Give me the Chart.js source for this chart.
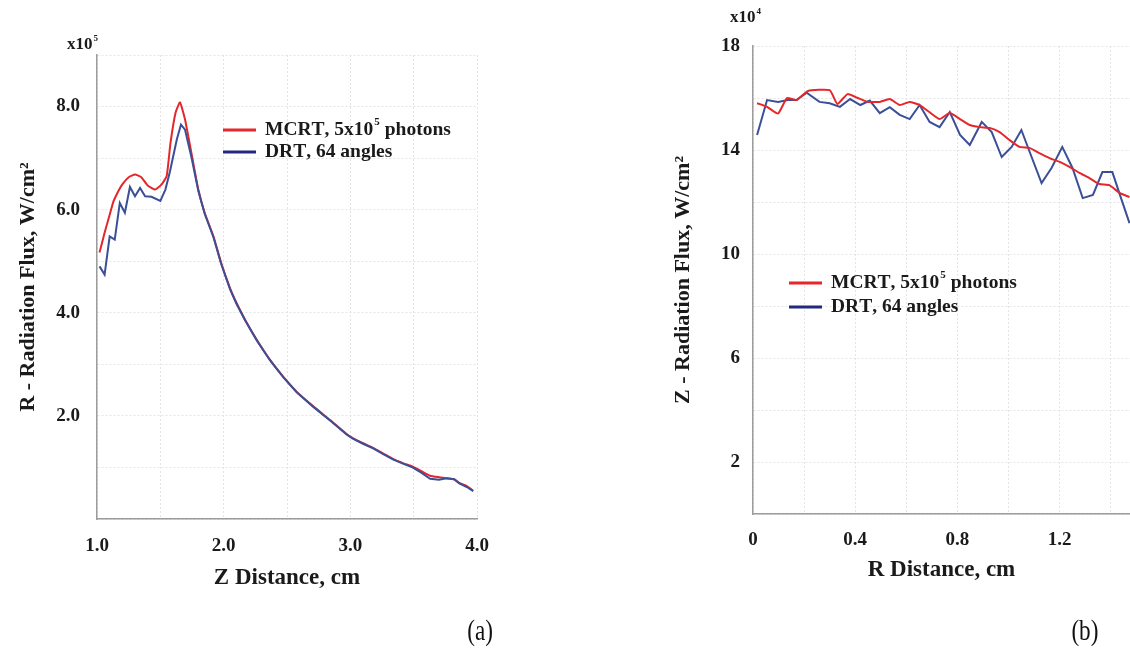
<!DOCTYPE html>
<html>
<head>
<meta charset="utf-8">
<script src="https://cdn.jsdelivr.net/npm/chart.js@4.4.1/dist/chart.umd.min.js"></script>
<style>
  html, body { margin: 0; padding: 0; background: #fff; }
  #wrap { position: relative; width: 1130px; height: 658px; overflow: hidden; }
  .box { position: absolute; top: 0; width: 565px; height: 658px; }
  .tag { position: absolute; top: 614px; font-family: "Liberation Serif", serif; font-size: 29px; color: #111; transform: scaleX(0.8); }
</style>
</head>
<body>
<div id="wrap">
  <div class="box" style="left:0"><canvas id="chartA" width="565" height="658"></canvas></div>
  <div class="box" style="left:565px"><canvas id="chartB" width="565" height="658"></canvas></div>
  <div class="tag" style="left:464px">(a)</div>
  <div class="tag" style="left:1068px">(b)</div>
</div>
<script>
// (a) R - radiation flux vs Z distance (x10^5 W/cm2)
var mcrtZ = [1.02, 1.06, 1.10, 1.13, 1.16, 1.20, 1.25, 1.30, 1.35, 1.40, 1.46, 1.51, 1.55, 1.58, 1.62, 1.655, 1.695, 1.75, 1.80,
  1.85, 1.92, 1.98, 2.05, 2.10, 2.17, 2.26, 2.365, 2.47, 2.576, 2.71, 2.84, 2.97, 3.02, 3.10, 3.18, 3.26, 3.34, 3.42, 3.49,
  3.56, 3.63, 3.70, 3.76, 3.82, 3.86, 3.92, 3.97];
var mcrtFlux = [5.17, 5.55, 5.9, 6.16, 6.32, 6.49, 6.63, 6.68, 6.63, 6.47, 6.39, 6.49, 6.65, 7.29, 7.88, 8.08, 7.75, 7.04, 6.39,
  5.94, 5.48, 4.97, 4.48, 4.2, 3.86, 3.48, 3.09, 2.76, 2.47, 2.18, 1.92, 1.65, 1.57, 1.47, 1.38, 1.27, 1.16, 1.08, 1.02,
  0.93, 0.84, 0.81, 0.79, 0.77, 0.70, 0.64, 0.55];
var drtZ = [1.02, 1.06, 1.10, 1.14, 1.18, 1.22, 1.26, 1.30, 1.34, 1.38, 1.43, 1.50, 1.54, 1.576, 1.63, 1.663, 1.695, 1.747, 1.80,
  1.85, 1.92, 1.98, 2.05, 2.10, 2.17, 2.26, 2.365, 2.47, 2.576, 2.71, 2.84, 2.97, 3.02, 3.10, 3.18, 3.26, 3.34, 3.42, 3.49,
  3.56, 3.63, 3.70, 3.76, 3.82, 3.86, 3.92, 3.97];
var drtFlux = [4.9, 4.74, 5.48, 5.42, 6.13, 5.94, 6.44, 6.26, 6.42, 6.26, 6.25, 6.17, 6.39, 6.74, 7.36, 7.65, 7.55, 7.0, 6.36,
  5.92, 5.46, 4.95, 4.46, 4.18, 3.85, 3.47, 3.08, 2.75, 2.46, 2.17, 1.91, 1.64, 1.56, 1.46, 1.37, 1.26, 1.15, 1.07, 1.0,
  0.9, 0.78, 0.76, 0.79, 0.77, 0.69, 0.62, 0.54];

// (b) Z - radiation flux vs R distance (x10^4 W/cm2)
var mcrtR = [0.016, 0.055, 0.098, 0.133, 0.17, 0.215, 0.30, 0.33, 0.37, 0.41, 0.45, 0.496, 0.535, 0.574, 0.613, 0.652, 0.69,
  0.73, 0.77, 0.81, 0.848, 0.887, 0.926, 0.965, 1.004, 1.043, 1.082, 1.12, 1.16, 1.2, 1.238, 1.277, 1.316, 1.355, 1.394,
  1.434, 1.473];
var mcrtFluxB = [15.8, 15.66, 15.4, 16.0, 15.92, 16.27, 16.3, 15.77, 16.15, 16.0, 15.85, 15.85, 15.96, 15.73, 15.85, 15.73,
  15.46, 15.19, 15.42, 15.19, 14.96, 14.88, 14.85, 14.69, 14.38, 14.12, 14.08, 13.88, 13.69, 13.54, 13.35, 13.12, 12.92,
  12.69, 12.65, 12.35, 12.19];
var drtR = [0.016, 0.055, 0.098, 0.137, 0.17, 0.21, 0.26, 0.30, 0.34, 0.38, 0.42, 0.457, 0.496, 0.535, 0.574, 0.613, 0.652,
  0.691, 0.73, 0.77, 0.81, 0.848, 0.895, 0.934, 0.973, 1.012, 1.05, 1.09, 1.129, 1.168, 1.21, 1.25, 1.29, 1.33, 1.367,
  1.406, 1.433, 1.473];
var drtFluxB = [14.58, 15.92, 15.85, 15.92, 15.92, 16.2, 15.85, 15.8, 15.66, 15.96, 15.73, 15.9, 15.42, 15.65, 15.35, 15.19,
  15.73, 15.08, 14.88, 15.46, 14.58, 14.19, 15.08, 14.69, 13.73, 14.12, 14.77, 13.73, 12.73, 13.31, 14.12, 13.31, 12.15,
  12.27, 13.15, 13.15, 12.35, 11.19];

var seriesNames = ['MCRT, 5x10\u2075 photons', 'DRT, 64 angles'];
var seriesColors = ['#e3272b', '#3b4f98'];

var SERIF = '"Liberation Serif", "Times New Roman", serif';
var SUP = { '\u2074': '4', '\u2075': '5', '\u00b2': '2' };

function pts(xs, ys) {
  return xs.map(function(x, i) { return { x: x, y: ys[i] }; });
}

// draws text where superscript characters are drawn small and raised
function richText(ctx, text, x, y, size) {
  var cx = x;
  for (var i = 0; i < text.length; i++) {
    var ch = text[i];
    if (SUP[ch]) {
      ctx.font = 'bold ' + Math.round(size * 0.55) + 'px ' + SERIF;
      ctx.fillText(SUP[ch], cx + 1, y - size * 0.38);
      cx += ctx.measureText(SUP[ch]).width + 1;
    } else {
      ctx.font = 'bold ' + size + 'px ' + SERIF;
      ctx.fillText(ch, cx, y);
      cx += ctx.measureText(ch).width;
    }
  }
}

var overlay = {
  id: 'overlay',
  afterDraw: function(chart, args, o) {
    var ctx = chart.ctx;
    ctx.save();
    ctx.fillStyle = '#1a1a1a';
    ctx.textBaseline = 'middle';
    richText(ctx, o.exp, o.expX, o.expY, 17);
    chart.data.datasets.forEach(function(ds, i) {
      var y = o.y + i * o.gap;
      ctx.strokeStyle = i === 0 ? ds.borderColor : '#23297d';
      ctx.lineWidth = 3;
      ctx.beginPath();
      ctx.moveTo(o.x, y);
      ctx.lineTo(o.x + 33, y);
      ctx.stroke();
      ctx.fillStyle = '#1a1a1a';
      richText(ctx, ds.label, o.x + 42, y, 19.5);
    });
    ctx.restore();
  }
};

function makeDatasets(a, b, blueOnTop) {
  return [
    { label: seriesNames[0], data: a, borderColor: seriesColors[0], borderWidth: 2, pointRadius: 0, tension: 0.15, order: blueOnTop ? 1 : 0 },
    { label: seriesNames[1], data: b, borderColor: seriesColors[1], borderWidth: 2, pointRadius: 0, tension: 0, order: blueOnTop ? 0 : 1 }
  ];
}

function axisBase() {
  return {
    type: 'linear',
    grid: { color: '#e4e4e4', drawTicks: false },
    border: { display: true, color: '#9c9c9c', width: 1.5, dash: [2, 2] },
    ticks: { color: '#1a1a1a', font: { family: SERIF, size: 19, weight: 'bold' } },
    title: { display: true, color: '#1a1a1a', font: { family: SERIF, size: 22, weight: 'bold' } }
  };
}

Chart.defaults.animation = false;

// chart (a)
var xA = axisBase();
xA.min = 1; xA.max = 4;
xA.ticks.stepSize = 0.5;
xA.ticks.padding = 16;
xA.ticks.callback = function(v) { return Number.isInteger(v) ? v.toFixed(1) : ''; };
xA.title.text = 'Z Distance, cm';
xA.title.font.size = 23;
xA.title.padding = { top: 0, bottom: 66 };
xA.afterFit = function(s) { s.height = 139; };

var yA = axisBase();
yA.min = 0; yA.max = 9;
yA.ticks.stepSize = 1;
yA.ticks.padding = 17;
yA.ticks.callback = function(v) { return (v > 0 && v % 2 === 0) ? v.toFixed(1) : ''; };
yA.title.text = 'R - Radiation Flux, W/cm\u00b2';
yA.title.padding = { top: 15, bottom: 0 };
yA.afterFit = function(s) { s.width = 97; };

new Chart(document.getElementById('chartA'), {
  type: 'line',
  data: { datasets: makeDatasets(pts(mcrtZ, mcrtFlux), pts(drtZ, drtFlux), true) },
  options: {
    responsive: false,
    layout: { padding: { top: 55, right: 88, left: 0, bottom: 0 } },
    scales: { x: xA, y: yA },
    plugins: {
      legend: { display: false },
      tooltip: { enabled: false },
      overlay: { x: 223, y: 130, gap: 22, exp: 'x10\u2075', expX: 67, expY: 45 }
    }
  },
  plugins: [overlay]
});

// chart (b)
var xB = axisBase();
xB.min = 0; xB.max = 1.475;
xB.ticks.stepSize = 0.2;
xB.ticks.includeBounds = false;
xB.ticks.padding = 15;
xB.ticks.callback = function(v) {
  var k = Math.round(v * 10);
  if (k % 4 !== 0) return '';
  return k === 0 ? '0' : (k / 10).toFixed(1);
};
xB.title.text = 'R Distance, cm';
xB.title.font.size = 23;
xB.title.padding = { top: 0, bottom: 74 };
xB.afterFit = function(s) { s.height = 144; };

var yB = axisBase();
yB.min = 0; yB.max = 18;
yB.ticks.stepSize = 2;
yB.ticks.padding = 13;
yB.ticks.callback = function(v) { return ((v - 2) % 4 === 0) ? String(v) : ''; };
yB.title.text = 'Z - Radiation Flux, W/cm\u00b2';
yB.title.padding = { top: 105, bottom: 0 };
yB.afterFit = function(s) { s.width = 188; };

new Chart(document.getElementById('chartB'), {
  type: 'line',
  data: { datasets: makeDatasets(pts(mcrtR, mcrtFluxB), pts(drtR, drtFluxB), false) },
  options: {
    responsive: false,
    layout: { padding: { top: 46, right: 0, left: 0, bottom: 0 } },
    scales: { x: xB, y: yB },
    plugins: {
      legend: { display: false },
      tooltip: { enabled: false },
      overlay: { x: 224, y: 283, gap: 24, exp: 'x10\u2074', expX: 165, expY: 18 }
    }
  },
  plugins: [overlay]
});
</script>
</body>
</html>
